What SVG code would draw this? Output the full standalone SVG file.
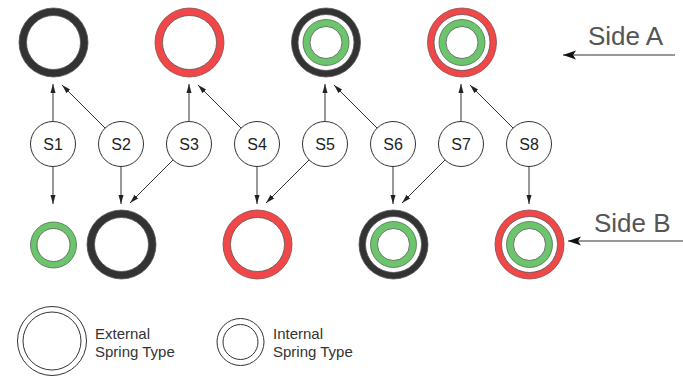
<svg xmlns="http://www.w3.org/2000/svg" width="683" height="376" viewBox="0 0 683 376">
<style>
.bk{fill:#333333;stroke:#555555;stroke-width:0.8}
.rd{fill:#f04848;stroke:#8a4a4a;stroke-width:0.8}
.gr{fill:#6cc46c;stroke:#4f6f4f;stroke-width:0.8}
.wh{fill:#ffffff;stroke:#555555;stroke-width:0.8}
.node{fill:#ffffff;stroke:#333333;stroke-width:1}
.lbl{font-family:"Liberation Sans",Arial,sans-serif;font-size:16px;fill:#222;text-anchor:middle}
.side{font-family:"Liberation Sans",Arial,sans-serif;font-size:26px;fill:#555}
.leg{font-family:"Liberation Sans",Arial,sans-serif;font-size:15px;fill:#333}
.ln{stroke:#333;stroke-width:1;fill:none}
.lg{fill:#fff;stroke:#333;stroke-width:1}
</style>
<defs>
<marker id="ah" markerUnits="userSpaceOnUse" markerWidth="10" markerHeight="8" refX="9" refY="4" orient="auto">
<path d="M0,1.5 L9,4 L0,6.5 Z" fill="#222"/>
</marker>
<marker id="ahb" markerUnits="userSpaceOnUse" markerWidth="14" markerHeight="10" refX="13" refY="5" orient="auto">
<path d="M0,0.5 L13,5 L0,9.5 L3,5 Z" fill="#111"/>
</marker>
</defs>

<g id="top-ring-1"><circle class="bk" cx="53.5" cy="42.5" r="34.5"/><circle class="wh" cx="53.5" cy="42.5" r="27"/></g>
<g id="top-ring-2"><circle class="rd" cx="189.5" cy="42.5" r="34.5"/><circle class="wh" cx="189.5" cy="42.5" r="27"/></g>
<g id="top-ring-3"><circle class="bk" cx="326" cy="42.5" r="34.5"/><circle class="wh" cx="326" cy="42.5" r="28"/><circle class="gr" cx="326" cy="42.5" r="23"/><circle class="wh" cx="326" cy="42.5" r="16"/></g>
<g id="top-ring-4"><circle class="rd" cx="462" cy="42.5" r="34.5"/><circle class="wh" cx="462" cy="42.5" r="28"/><circle class="gr" cx="462" cy="42.5" r="23"/><circle class="wh" cx="462" cy="42.5" r="16"/></g>

<g id="bot-ring-1"><circle class="gr" cx="53.5" cy="245" r="23"/><circle class="wh" cx="53.5" cy="245" r="16.5"/></g>
<g id="bot-ring-2"><circle class="bk" cx="121.5" cy="244.5" r="34.5"/><circle class="wh" cx="121.5" cy="244.5" r="27"/></g>
<g id="bot-ring-3"><circle class="rd" cx="257.5" cy="244.5" r="34.5"/><circle class="wh" cx="257.5" cy="244.5" r="27"/></g>
<g id="bot-ring-4"><circle class="bk" cx="393.5" cy="244.5" r="34.5"/><circle class="wh" cx="393.5" cy="244.5" r="28"/><circle class="gr" cx="393.5" cy="244.5" r="23"/><circle class="wh" cx="393.5" cy="244.5" r="16"/></g>
<g id="bot-ring-5"><circle class="rd" cx="529.5" cy="244.5" r="34.5"/><circle class="wh" cx="529.5" cy="244.5" r="28"/><circle class="gr" cx="529.5" cy="244.5" r="23"/><circle class="wh" cx="529.5" cy="244.5" r="16"/></g>

<g id="connectors">
<line class="ln" x1="53" y1="121" x2="53" y2="84" marker-end="url(#ah)"/>
<line class="ln" x1="105" y1="128" x2="62" y2="85" marker-end="url(#ah)"/>
<line class="ln" x1="189" y1="121" x2="189" y2="84" marker-end="url(#ah)"/>
<line class="ln" x1="241" y1="128" x2="198" y2="85" marker-end="url(#ah)"/>
<line class="ln" x1="325" y1="121" x2="325" y2="84" marker-end="url(#ah)"/>
<line class="ln" x1="377" y1="128" x2="334" y2="85" marker-end="url(#ah)"/>
<line class="ln" x1="461" y1="121" x2="461" y2="84" marker-end="url(#ah)"/>
<line class="ln" x1="513" y1="128" x2="470" y2="85" marker-end="url(#ah)"/>

<line class="ln" x1="53" y1="166" x2="53" y2="204" marker-end="url(#ah)"/>
<line class="ln" x1="121" y1="166" x2="121" y2="204" marker-end="url(#ah)"/>
<line class="ln" x1="173" y1="160" x2="130" y2="203" marker-end="url(#ah)"/>
<line class="ln" x1="257" y1="166" x2="257" y2="204" marker-end="url(#ah)"/>
<line class="ln" x1="309" y1="160" x2="266" y2="203" marker-end="url(#ah)"/>
<line class="ln" x1="393" y1="166" x2="393" y2="204" marker-end="url(#ah)"/>
<line class="ln" x1="445" y1="160" x2="402" y2="203" marker-end="url(#ah)"/>
<line class="ln" x1="529" y1="166" x2="529" y2="204" marker-end="url(#ah)"/>

<line class="ln" x1="675" y1="55" x2="563" y2="55" marker-end="url(#ahb)"/>
<line class="ln" x1="683" y1="241" x2="568" y2="241" marker-end="url(#ahb)"/>
</g>

<g id="S1"><circle class="node" cx="53" cy="144" r="22.5"/><text class="lbl" x="53" y="150">S1</text></g>
<g id="S2"><circle class="node" cx="121" cy="144" r="22.5"/><text class="lbl" x="121" y="150">S2</text></g>
<g id="S3"><circle class="node" cx="189" cy="144" r="22.5"/><text class="lbl" x="189" y="150">S3</text></g>
<g id="S4"><circle class="node" cx="257" cy="144" r="22.5"/><text class="lbl" x="257" y="150">S4</text></g>
<g id="S5"><circle class="node" cx="325" cy="144" r="22.5"/><text class="lbl" x="325" y="150">S5</text></g>
<g id="S6"><circle class="node" cx="393" cy="144" r="22.5"/><text class="lbl" x="393" y="150">S6</text></g>
<g id="S7"><circle class="node" cx="461" cy="144" r="22.5"/><text class="lbl" x="461" y="150">S7</text></g>
<g id="S8"><circle class="node" cx="529" cy="144" r="22.5"/><text class="lbl" x="529" y="150">S8</text></g>

<g id="side-a"><text class="side" x="588" y="45">Side A</text></g>
<g id="side-b"><text class="side" x="594" y="232">Side B</text></g>

<g id="legend-external">
<circle class="lg" cx="52" cy="341" r="34.5"/><circle class="lg" cx="52" cy="341" r="29"/>
<text class="leg" x="95" y="339">External</text>
<text class="leg" x="95" y="357">Spring Type</text>
</g>
<g id="legend-internal">
<circle class="lg" cx="240.5" cy="342" r="23.5"/><circle class="lg" cx="240.5" cy="342" r="17.5"/>
<text class="leg" x="273" y="339">Internal</text>
<text class="leg" x="273" y="357">Spring Type</text>
</g>
</svg>
